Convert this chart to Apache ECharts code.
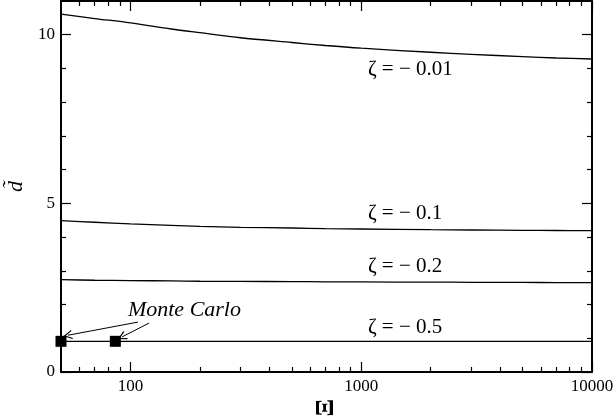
<!DOCTYPE html>
<html><head><meta charset="utf-8">
<script src="https://cdn.jsdelivr.net/npm/echarts@6/dist/echarts.min.js"></script>
<style>html,body{margin:0;padding:0;background:#fff}#c{width:616px;height:418px}</style>
</head><body><div id="c"></div>
<script>
// ---- data ----
const xValues   = [50, 70, 100, 150, 200, 300, 500, 700, 1000, 2000, 3000, 5000, 7000, 10000];
const dZeta001  = [10.61, 10.48, 10.35, 10.17, 10.06, 9.91, 9.77, 9.68, 9.60, 9.48, 9.42, 9.35, 9.31, 9.28];
const dZeta01   = [4.49, 4.44, 4.39, 4.35, 4.32, 4.29, 4.27, 4.25, 4.24, 4.22, 4.21, 4.20, 4.195, 4.19];
const dZeta02   = [2.74, 2.72, 2.71, 2.70, 2.69, 2.685, 2.68, 2.675, 2.67, 2.665, 2.66, 2.655, 2.652, 2.65];
const dZeta05   = [0.91, 0.91, 0.91, 0.91, 0.91, 0.91, 0.91, 0.91, 0.91, 0.91, 0.91, 0.91, 0.91, 0.91];
const seriesNames = ['ζ = − 0.01', 'ζ = − 0.1', 'ζ = − 0.2', 'ζ = − 0.5'];
const monteCarloX = [50, 86];
const monteCarloY = [0.91, 0.91];
const xMajorTicks = [100, 1000, 10000];
const xMinorTicks = [60, 70, 80, 90, 200, 300, 400, 500, 600, 700, 800, 900, 2000, 3000, 4000, 5000, 6000, 7000, 8000, 9000];
const yMajorTicks = [0, 5, 10];
const yMinorTicks = [1, 2, 3, 4, 6, 7, 8, 9];

// ---- chart ----
const FONT = 'Liberation Serif';
const chart = echarts.init(document.getElementById('c'), null, {renderer: 'canvas'});
const black = '#000';
const axisLineOn = {show: true, onZero: false, lineStyle: {color: black, width: 2}};
const axisLineOff = {show: false, onZero: false};
const tickStyle = {color: black, width: 1.2};

function xAxisDef(position, ticks, len, labels, extra) {
  return Object.assign({
    type: 'log', logBase: 10, min: 50, max: 10000, gridIndex: 0, position: position,
    splitLine: {show: false}, minorTick: {show: false}, minorSplitLine: {show: false},
    axisLine: len === 10 ? axisLineOn : axisLineOff,
    axisTick: {show: true, inside: true, length: len, customValues: ticks, lineStyle: tickStyle},
    axisLabel: labels ? {show: true, customValues: ticks, color: black, fontFamily: FONT, fontSize: 17, margin: 6,
      formatter: v => String(Math.round(v))} : {show: false}
  }, extra || {});
}
function yAxisDef(position, ticks, len, labels, extra) {
  return Object.assign({
    type: 'value', min: 0, max: 11, gridIndex: 0, position: position,
    splitLine: {show: false}, minorTick: {show: false},
    axisLine: len === 10 ? axisLineOn : axisLineOff,
    axisTick: {show: true, inside: true, length: len, customValues: ticks, lineStyle: tickStyle},
    axisLabel: labels ? {show: true, customValues: ticks, color: black, fontFamily: FONT, fontSize: 17, margin: 6} : {show: false}
  }, extra || {});
}

const curves = [dZeta001, dZeta01, dZeta02, dZeta05];
const labelY = [8.96, 4.69, 3.14, 1.33];
const series = curves.map((vals, i) => ({
  type: 'line', name: seriesNames[i], xAxisIndex: 0, yAxisIndex: 0,
  data: xValues.map((x, j) => [x, vals[j]]),
  smooth: 0.3, showSymbol: false, silent: true,
  lineStyle: {color: black, width: 1.3},
  markPoint: {
    silent: true, symbol: 'circle', symbolSize: 0,
    data: [{coord: [1069, labelY[i]], value: seriesNames[i]}],
    label: {show: true, position: [0, 0], align: 'left', verticalAlign: 'middle',
      color: black, fontFamily: FONT, fontSize: 21, formatter: seriesNames[i]}
  }
}));

const arrowPath = 'path://M5,0 L10,9 L9,10 L5,2.6 L1,10 L0,9 Z';
series.push({
  type: 'scatter', name: 'Monte Carlo', xAxisIndex: 0, yAxisIndex: 0,
  data: monteCarloX.map((x, j) => [x, monteCarloY[j]]),
  symbol: 'rect', symbolSize: 11, itemStyle: {color: black, opacity: 1}, silent: true, z: 5,
  markLine: {
    silent: true, animation: false,
    symbol: ['none', arrowPath], symbolSize: 9,
    lineStyle: {color: black, width: 1, type: 'solid', opacity: 1},
    label: {show: false},
    data: [
      [{coord: [107.8, 1.48]}, {coord: [53.6, 1.09]}],
      [{coord: [120.3, 1.45]}, {coord: [91.9, 1.04]}]
    ]
  },
  markPoint: {
    silent: true, symbol: 'circle', symbolSize: 0,
    data: [{coord: [97.5, 1.83], value: 'Monte Carlo'}],
    label: {show: true, position: [0, 0], align: 'left', verticalAlign: 'middle',
      color: black, fontFamily: FONT, fontStyle: 'italic', fontSize: 22, formatter: 'Monte Carlo'}
  }
});

chart.setOption({
  animation: false,
  backgroundColor: '#fff',
  textStyle: {fontFamily: FONT, color: black},
  grid: {left: 61, right: 24, top: 1, bottom: 46, containLabel: false, outerBoundsMode: 'none'},
  xAxis: [
    xAxisDef('bottom', xMajorTicks, 10, true, {
      name: 'Ξ', nameLocation: 'middle', nameGap: 27, nameRotate: 90,
      nameTextStyle: {color: black, fontFamily: FONT, fontSize: 26, fontWeight: 'bold'}
    }),
    xAxisDef('bottom', xMinorTicks, 5, false),
    xAxisDef('top', xMajorTicks, 10, false),
    xAxisDef('top', xMinorTicks, 5, false)
  ],
  yAxis: [
    yAxisDef('left', yMajorTicks, 10, true, {
      name: 'd\u0303', nameLocation: 'middle', nameGap: 33, nameRotate: 90,
      nameTextStyle: {color: black, fontFamily: FONT, fontStyle: 'italic', fontSize: 22}
    }),
    yAxisDef('left', yMinorTicks, 5, false),
    yAxisDef('right', yMajorTicks, 10, false),
    yAxisDef('right', yMinorTicks, 5, false)
  ],
  series: series
});
</script>
</body></html>
